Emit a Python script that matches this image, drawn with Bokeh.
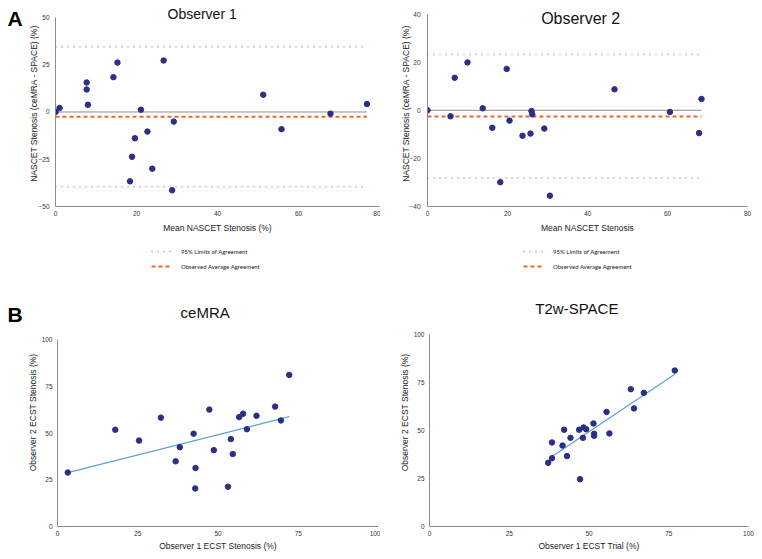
from bokeh.plotting import figure
from bokeh.models import Range1d, Label, Legend, LegendItem, FixedTicker, Spacer
from bokeh.layouts import column, row
from bokeh.embed import file_html
from bokeh.resources import INLINE

# ---- Panel A: Bland-Altman, Observer 1 ----
obs1_mean = [0, 1.0, 7.7, 7.7, 8.0, 14.3, 15.3, 26.7, 21.1, 29.2, 22.7, 19.6,
             18.9, 23.9, 18.4, 28.8, 51.3, 55.8, 67.9, 76.9]
obs1_diff = [0, 2.1, 15.6, 11.9, 3.8, 18.4, 26.1, 27.2, 1.2, -5.1, -10.4, -13.9,
             -23.7, -30.0, -36.7, -41.4, 9.1, -9.1, -0.9, 4.2]
obs1_bias = -2.5
obs1_loa_upper = 34.5
obs1_loa_lower = -39.5

# ---- Panel A: Bland-Altman, Observer 2 ----
obs2_mean = [0, 5.75, 6.8, 10.0, 13.8, 16.2, 19.8, 20.5, 18.2, 23.75, 25.75,
             26.0, 26.2, 29.2, 30.6, 46.75, 60.6, 67.9, 68.5]
obs2_diff = [0, -2.5, 13.5, 19.9, 0.8, -7.3, 17.2, -4.3, -29.9, -10.6, -9.7,
             -0.3, -1.7, -7.6, -35.5, 8.7, -0.7, -9.5, 4.7]
obs2_bias = -2.6
obs2_loa_upper = 23.2
obs2_loa_lower = -28.3

# ---- Panel B: ceMRA inter-observer ----
cemra_obs1 = [3.2, 18.0, 25.4, 32.2, 36.8, 38.1, 42.4, 43.0, 42.9, 47.3, 48.7,
              53.1, 54.0, 54.6, 56.6, 57.8, 59.0, 62.0, 67.8, 69.6, 72.2]
cemra_obs2 = [28.9, 51.8, 46.0, 58.3, 34.9, 42.5, 49.7, 31.3, 20.4, 62.6, 40.9,
              21.3, 46.8, 38.8, 58.6, 60.4, 52.1, 59.3, 64.2, 56.8, 81.2]
cemra_fit_x = [3.2, 72.2]
cemra_fit_y = [28.9, 58.8]

# ---- Panel B: T2w-SPACE inter-observer ----
space_obs1 = [37.2, 38.4, 38.4, 41.7, 42.2, 43.1, 44.2, 46.9, 47.2, 48.1, 48.3,
              49.1, 51.4, 51.6, 51.6, 55.5, 56.4, 63.1, 64.1, 67.2, 76.9]
space_obs2 = [33.1, 43.7, 35.5, 42.1, 50.3, 36.6, 46.1, 50.3, 24.6, 46.1, 51.5,
              50.6, 53.6, 48.2, 47.2, 59.6, 48.4, 71.4, 61.4, 69.5, 81.1]
space_fit_x = [38.4, 76.9]
space_fit_y = [36.4, 79.2]

ticks_ba1 = [-50, -25, 0, 25, 50]
ticks_ba2 = [-40, -20, 0, 20, 40]
ticks_x_ba = [0, 20, 40, 60, 80]
ticks_100 = [0, 25, 50, 75, 100]

DOT = "#2b2f86"
PINK = "#d66fa3"
ORANGE = "#f0652a"
GRAY = "#8c8c8c"
BLUE = "#5ba3d4"
FONT = "Liberation Sans"


def make_fig(width, height, xr, ybounds, axis_px, xt, yt, mbl, mbr, mbb,
             xlabel, ylabel, ylab_standoff, ytick_standoff, xlab_standoff=4):
    frame_h = height - mbb
    y0, y1 = ybounds
    yr = Range1d(y0, y0 + (y1 - y0) * frame_h / axis_px)
    p = figure(width=width, height=height, x_range=Range1d(*xr), y_range=yr,
               output_backend="svg", toolbar_location=None,
               min_border_left=mbl, min_border_right=mbr,
               min_border_top=0, min_border_bottom=mbb)
    p.outline_line_color = None
    p.xgrid.visible = False
    p.ygrid.visible = False
    p.xaxis.ticker = FixedTicker(ticks=xt)
    p.yaxis.ticker = FixedTicker(ticks=yt)
    p.yaxis.bounds = ybounds
    for ax in (p.xaxis, p.yaxis):
        ax.axis_line_color = GRAY
        ax.axis_line_width = 1
        ax.major_tick_out = 0
        ax.major_tick_in = 0
        ax.minor_tick_out = 0
        ax.minor_tick_in = 0
        ax.major_label_text_font_size = "6.5px"
        ax.major_label_text_font = FONT
        ax.major_label_text_color = "#333333"
        ax.axis_label_text_font_size = "8.5px"
        ax.axis_label_text_font = FONT
        ax.axis_label_text_font_style = "normal"
        ax.axis_label_text_color = "#222222"
    p.xaxis.major_label_standoff = 4
    p.yaxis.major_label_standoff = ytick_standoff
    p.xaxis.axis_label_standoff = xlab_standoff
    p.yaxis.axis_label_standoff = ylab_standoff
    p.xaxis.axis_label = xlabel
    p.yaxis.axis_label = ylabel
    return p


def title_label(p, text, x, y, size="15px"):
    p.add_layout(Label(x=x, y=y, text=text, text_align="center", text_baseline="middle",
                       text_font=FONT, text_font_size=size, text_color="#111111"))


def blank_fig(width, height):
    p = figure(width=width, height=height, x_range=Range1d(0, width), y_range=Range1d(0, height),
               output_backend="svg", toolbar_location=None,
               x_axis_location=None, y_axis_location=None,
               min_border_left=0, min_border_right=0, min_border_top=0, min_border_bottom=0)
    p.outline_line_color = None
    p.xgrid.visible = False
    p.ygrid.visible = False
    return p


def letter_fig(text, width, height, left, center_from_top):
    p = blank_fig(width, height)
    p.add_layout(Label(x=left, y=height - center_from_top, text=text, text_align="left",
                       text_baseline="middle", text_font=FONT, text_font_size="21px",
                       text_font_style="bold", text_color="#000000"))
    return p


def legend_block(total_w, total_h, left, top, xs, bias, up):
    w = total_w - left
    h = total_h - top
    p = blank_fig(w, h)
    xmax = max(xs)
    r_loa = p.line([0, xmax], [up, up], line_color=PINK, line_width=1.5,
                   line_dash="1 5", visible=False)
    r_bias = p.line([0, xmax], [bias, bias], line_color=ORANGE, line_width=2,
                    line_dash="4 3", visible=False)
    leg = Legend(items=[LegendItem(label="95% Limits of Agreement", renderers=[r_loa]),
                        LegendItem(label="Observed Average Agreement", renderers=[r_bias])],
                 location="top_left", orientation="vertical",
                 label_text_font_size="6px", label_text_font="Lato", label_text_color="#222222",
                 glyph_width=20, glyph_height=10, label_standoff=10, spacing=5,
                 padding=0, margin=0, border_line_color=None, background_fill_alpha=0,
                 label_height=10, inactive_fill_alpha=0)
    p.add_layout(leg)
    return row(Spacer(width=left, height=total_h),
               column(Spacer(width=w, height=top), p))


def bland_altman(p, xs, ys, bias, up, lo):
    xmax = max(xs)
    p.line([0, xmax], [0, 0], line_color=GRAY, line_width=1)
    p.line([0, xmax], [up, up], line_color=PINK, line_width=1.5, line_dash="1 5")
    p.line([0, xmax], [lo, lo], line_color=PINK, line_width=1.5, line_dash="1 5")
    p.line([0, xmax], [bias, bias], line_color=ORANGE, line_width=2, line_dash="4 3")
    p.scatter(xs, ys, size=5.5, fill_color=DOT, line_color=DOT)


# top row
f1 = make_fig(356, 235, (0, 80), (-50, 50), 190, ticks_x_ba, ticks_ba1, 31, 1, 28,
              "Mean NASCET Stenosis (%)", "NASCET Stenosis (ceMRA - SPACE) (%)", -4, 6)
bland_altman(f1, obs1_mean, obs1_diff, obs1_bias, obs1_loa_upper, obs1_loa_lower)
title_label(f1, "Observer 1", 36.2, 52.0, "14px")

f2 = make_fig(382, 235, (0, 80), (-40, 40), 193.4, ticks_x_ba, ticks_ba2, 47, 15, 28,
              "Mean NASCET Stenosis", "NASCET Stenosis (ceMRA - SPACE) (%)", -5, 7)
bland_altman(f2, obs2_mean, obs2_diff, obs2_bias, obs2_loa_upper, obs2_loa_lower)
title_label(f2, "Observer 2", 38.3, 38.3, "16px")

leg1 = legend_block(356, 63, 127, 11, obs1_mean, obs1_bias, obs1_loa_upper)
leg2 = legend_block(382, 63, 143, 11, obs2_mean, obs2_bias, obs2_loa_upper)
figA = letter_fig("A", 24, 298, 7, 17.5)

# bottom row
f3 = make_fig(356, 261, (0, 100), (0, 100), 190, ticks_100, ticks_100, 30, 2, 29,
              "Observer 1 ECST Stenosis (%)", "Observer 2 ECST Stenosis (%)", 1, 5, 2)
f3.line(cemra_fit_x, cemra_fit_y, line_color=BLUE, line_width=1.3)
f3.scatter(cemra_obs1, cemra_obs2, size=5.5, fill_color=DOT, line_color=DOT)
title_label(f3, "ceMRA", 46, 114.5)

f4 = make_fig(382, 261, (0, 100), (0, 100), 192.3, ticks_100, ticks_100, 49, 14, 33,
              "Observer 1 ECST Trial (%)", "Observer 2 ECST Stenosis (%)", 1, 5, 2)
f4.line(space_fit_x, space_fit_y, line_color=BLUE, line_width=1.3)
f4.scatter(space_obs1, space_obs2, size=5.5, fill_color=DOT, line_color=DOT)
title_label(f4, "T2w-SPACE", 46.2, 113.2)

figB = letter_fig("B", 24, 261, 7, 18.5)

layout = column(row(figA, column(f1, leg1), column(f2, leg2)),
                row(figB, f3, f4))
open("out.html", "w").write(file_html(layout, INLINE))
